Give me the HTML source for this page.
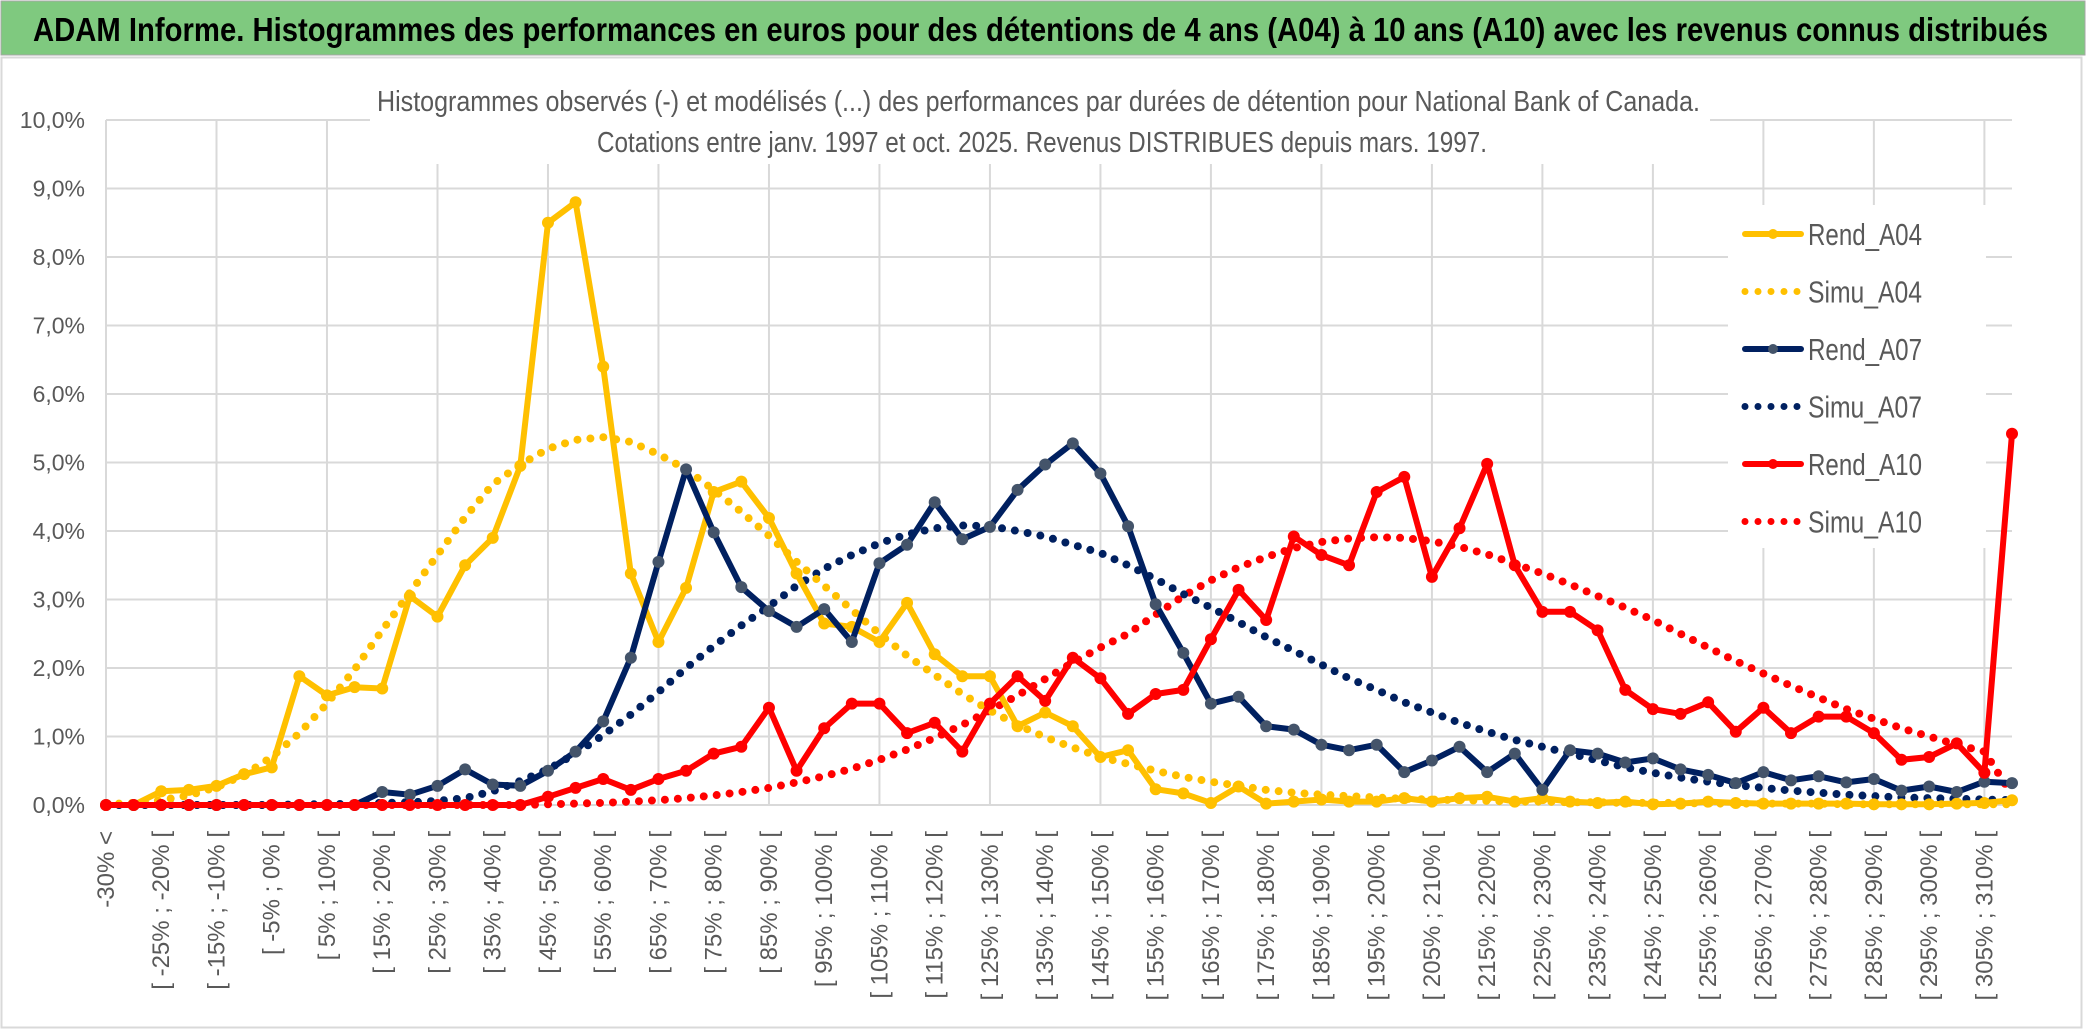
<!DOCTYPE html>
<html><head><meta charset="utf-8"><style>
html,body{margin:0;padding:0;background:#fff;}
svg{display:block;font-family:"Liberation Sans Narrow","Liberation Sans",sans-serif;}
</style></head><body>
<svg id="chart" width="2086" height="1033" viewBox="0 0 2086 1033" xmlns="http://www.w3.org/2000/svg">
<rect x="0" y="0" width="2086" height="1033" fill="#fff"/>
<rect x="1" y="1" width="2084" height="54" fill="#7fc97f" stroke="#a6a6a6" stroke-width="1"/>
<text x="33" y="41" font-size="33" font-weight="bold" fill="#000" textLength="2015" lengthAdjust="spacingAndGlyphs">ADAM Informe. Histogrammes des performances en euros pour des détentions de 4 ans (A04) à 10 ans (A10) avec les revenus connus distribués</text>
<rect x="1.5" y="57.5" width="2080" height="970" fill="none" stroke="#d9d9d9" stroke-width="2"/>
<g id="grid"></g>
<g id="yaxis"></g>
<g id="xaxis"></g>
<rect x="370" y="80" width="1340" height="84" fill="#fff"/>
<text x="377" y="111" font-size="29" fill="#595959" textLength="1323" lengthAdjust="spacingAndGlyphs">Histogrammes observés (-) et modélisés (...) des performances par durées de détention pour National Bank of Canada.</text>
<text x="597" y="152" font-size="29" fill="#595959" textLength="890" lengthAdjust="spacingAndGlyphs">Cotations entre janv. 1997 et oct. 2025. Revenus DISTRIBUES depuis mars. 1997.</text>
<rect x="1728" y="205" width="258" height="343" fill="#fff"/>
<g id="series"></g>
<g id="legend"></g>
</svg>
<script>
const categoryStarts = [];
for (let k = 1; k < 70; k++) categoryStarts.push(-35 + 5 * k);
const yTicks = [0,1,2,3,4,5,6,7,8,9,10];
const yTickLabels = ["0,0%","1,0%","2,0%","3,0%","4,0%","5,0%","6,0%","7,0%","8,0%","9,0%","10,0%"];
const rendA04 = [0,0,0.2,0.22,0.28,0.45,0.55,1.88,1.6,1.72,1.7,3.05,2.75,3.5,3.9,4.95,8.5,8.8,6.4,3.38,2.38,3.17,4.57,4.72,4.19,3.38,2.65,2.6,2.38,2.95,2.2,1.88,1.88,1.15,1.35,1.15,0.7,0.8,0.23,0.17,0.03,0.27,0.02,0.05,0.08,0.05,0.05,0.1,0.05,0.1,0.12,0.05,0.1,0.05,0.03,0.05,0.01,0.02,0.05,0.03,0.02,0.02,0.02,0.02,0.01,0.01,0.01,0.02,0.03,0.07];
const simuA04 = [0.01,0.03,0.07,0.14,0.26,0.44,0.7,1.05,1.48,1.98,2.55,3.1,3.65,4.2,4.68,4.97,5.2,5.33,5.37,5.3,5.12,4.9,4.6,4.28,3.93,3.55,3.2,2.85,2.5,2.18,1.9,1.62,1.38,1.17,0.99,0.84,0.7,0.6,0.5,0.41,0.34,0.28,0.22,0.18,0.15,0.13,0.11,0.09,0.08,0.07,0.06,0.05,0.05,0.04,0.04,0.03,0.03,0.03,0.02,0.02,0.02,0.02,0.02,0.01,0.01,0.01,0.01,0.01,0.01,0.01];
const rendA07 = [0,0,0,0,0,0,0,0,0,0,0.19,0.15,0.28,0.52,0.3,0.28,0.5,0.78,1.22,2.15,3.55,4.9,3.98,3.18,2.83,2.6,2.86,2.38,3.53,3.8,4.42,3.88,4.06,4.6,4.97,5.28,4.84,4.07,2.93,2.22,1.48,1.58,1.15,1.1,0.88,0.8,0.88,0.48,0.65,0.85,0.48,0.75,0.22,0.8,0.75,0.62,0.68,0.52,0.44,0.32,0.48,0.36,0.42,0.33,0.38,0.21,0.27,0.19,0.34,0.32];
const simuA07 = [0,0,0,0,0,0,0,0.01,0.01,0.02,0.03,0.04,0.06,0.1,0.2,0.35,0.52,0.75,1.02,1.32,1.65,2.0,2.32,2.62,2.9,3.2,3.45,3.65,3.82,3.95,4.04,4.08,4.07,4.0,3.92,3.8,3.68,3.5,3.3,3.08,2.88,2.67,2.45,2.25,2.05,1.85,1.68,1.5,1.35,1.2,1.07,0.95,0.85,0.75,0.65,0.55,0.47,0.4,0.34,0.29,0.25,0.21,0.18,0.15,0.13,0.11,0.1,0.09,0.08,0.07];
const rendA10 = [0,0,0,0,0,0,0,0,0,0,0,0,0,0,0,0,0.12,0.25,0.38,0.22,0.38,0.5,0.75,0.85,1.42,0.5,1.12,1.48,1.48,1.05,1.2,0.78,1.48,1.88,1.52,2.15,1.85,1.33,1.62,1.68,2.42,3.14,2.7,3.92,3.65,3.5,4.57,4.79,3.33,4.04,4.98,3.5,2.82,2.82,2.55,1.68,1.4,1.33,1.5,1.07,1.42,1.05,1.29,1.29,1.05,0.66,0.7,0.9,0.47,5.42];
const simuA10 = [0,0,0,0,0,0,0,0,0,0,0,0,0,0,0,0,0.01,0.02,0.03,0.05,0.07,0.1,0.14,0.19,0.25,0.33,0.42,0.53,0.66,0.81,0.98,1.17,1.38,1.6,1.84,2.08,2.3,2.5,2.78,3.05,3.28,3.47,3.62,3.75,3.84,3.89,3.91,3.9,3.85,3.77,3.66,3.52,3.38,3.22,3.05,2.88,2.7,2.5,2.3,2.1,1.92,1.74,1.57,1.4,1.26,1.12,1.0,0.88,0.78,0.15];
const seriesNames = ["Rend_A04","Simu_A04","Rend_A07","Simu_A07","Rend_A10","Simu_A10"];

const NS = "http://www.w3.org/2000/svg";
const X0 = 106, X1 = 2012, Y0 = 805, PX_PER_PCT = 68.5, NCAT = 70;
function xScale(k){ return X0 + k * (X1 - X0) / (NCAT - 1); }
function yScale(v){ return Y0 - v * PX_PER_PCT; }
function mk(tag, attrs, parent){ const e = document.createElementNS(NS, tag); for (const a in attrs) e.setAttribute(a, attrs[a]); parent.appendChild(e); return e; }

const grid = document.getElementById('grid');
yTicks.forEach((t, i) => {
  const l = mk('line', {x1:X0, x2:X1, y1:yScale(t), y2:yScale(t), stroke:'#d9d9d9', 'stroke-width':2}, grid);
  
  
});
for (let k = 0; k < NCAT; k += 4) {
  const l = mk('line', {x1:xScale(k), x2:xScale(k), y1:yScale(10), y2:yScale(0), stroke:'#d9d9d9', 'stroke-width':2}, grid);
  
  
}
const yaxis = document.getElementById('yaxis');
yTicks.forEach((t, i) => {
  const tx = mk('text', {x:85, y:yScale(t) + 8, 'text-anchor':'end', 'font-size':23, fill:'#595959'}, yaxis);
  tx.textContent = yTickLabels[i];
  
  
});
const xaxis = document.getElementById('xaxis');
for (let k = 0; k < NCAT; k += 2) {
  const lab = k === 0 ? '-30% <' : '[ ' + categoryStarts[k-1] + '% ; ' + (categoryStarts[k-1] + 5) + '% [';
  const xx = xScale(k) + 8;
  const tx = mk('text', {x:xx, y:831, 'text-anchor':'end', 'font-size':24, fill:'#595959', transform:'rotate(-90 ' + xx + ' 831)'}, xaxis);
  tx.textContent = lab;
  
  
}

const sg = document.getElementById('series');
function drawSolid(data, color, marker, name){
  const g = mk('g', {}, sg);
  
  
  const pts = data.map((v, k) => xScale(k).toFixed(1) + ',' + yScale(v).toFixed(1)).join(' ');
  const pl = mk('polyline', {points:pts, fill:'none', stroke:color, 'stroke-width':6, 'stroke-linejoin':'round', 'stroke-linecap':'round'}, g);
  
  
  data.forEach((v, k) => {
    const c = mk('circle', {cx:xScale(k), cy:yScale(v), r:6, fill:marker}, g);
    
    
  });
}
function drawDotted(data, color, name){
  let d = '';
  data.forEach((v, k) => { d += (k ? 'L' : 'M') + xScale(k).toFixed(1) + ' ' + yScale(v).toFixed(1); });
  const p = mk('path', {d:d, fill:'none', stroke:color, 'stroke-width':8, 'stroke-linecap':'round', 'stroke-dasharray':'0 13'}, sg);
  
  
}
drawDotted(simuA10, '#ff0000', 'simu-a10-line');
drawDotted(simuA07, '#002060', 'simu-a07-line');
drawDotted(simuA04, '#ffc000', 'simu-a04-line');
drawSolid(rendA04, '#ffc000', '#ffc000', 'rend-a04-series');
drawSolid(rendA07, '#002060', '#44546a', 'rend-a07-series');
drawSolid(rendA10, '#ff0000', '#ff0000', 'rend-a10-series');

const lg = document.getElementById('legend');
const legendStyles = [
  {c:'#ffc000', m:'#ffc000', solid:true},
  {c:'#ffc000', solid:false},
  {c:'#002060', m:'#44546a', solid:true},
  {c:'#002060', solid:false},
  {c:'#ff0000', m:'#ff0000', solid:true},
  {c:'#ff0000', solid:false}
];
seriesNames.forEach((n, i) => {
  const y = 234 + i * 57.5;
  const st = legendStyles[i];
  const g = mk('g', {}, lg);
  
  
  if (st.solid) {
    mk('line', {x1:1745, x2:1801, y1:y, y2:y, stroke:st.c, 'stroke-width':6, 'stroke-linecap':'round'}, g);
    mk('circle', {cx:1773, cy:y, r:5, fill:st.m}, g);
  } else {
    mk('line', {x1:1745, x2:1798, y1:y, y2:y, stroke:st.c, 'stroke-width':7, 'stroke-linecap':'round', 'stroke-dasharray':'0 13'}, g);
  }
  const t = mk('text', {x:1808, y:y + 11, 'font-size':31, fill:'#595959', textLength:114, lengthAdjust:'spacingAndGlyphs'}, g);
  t.textContent = n;
  
  
});
</script>
</body></html>
